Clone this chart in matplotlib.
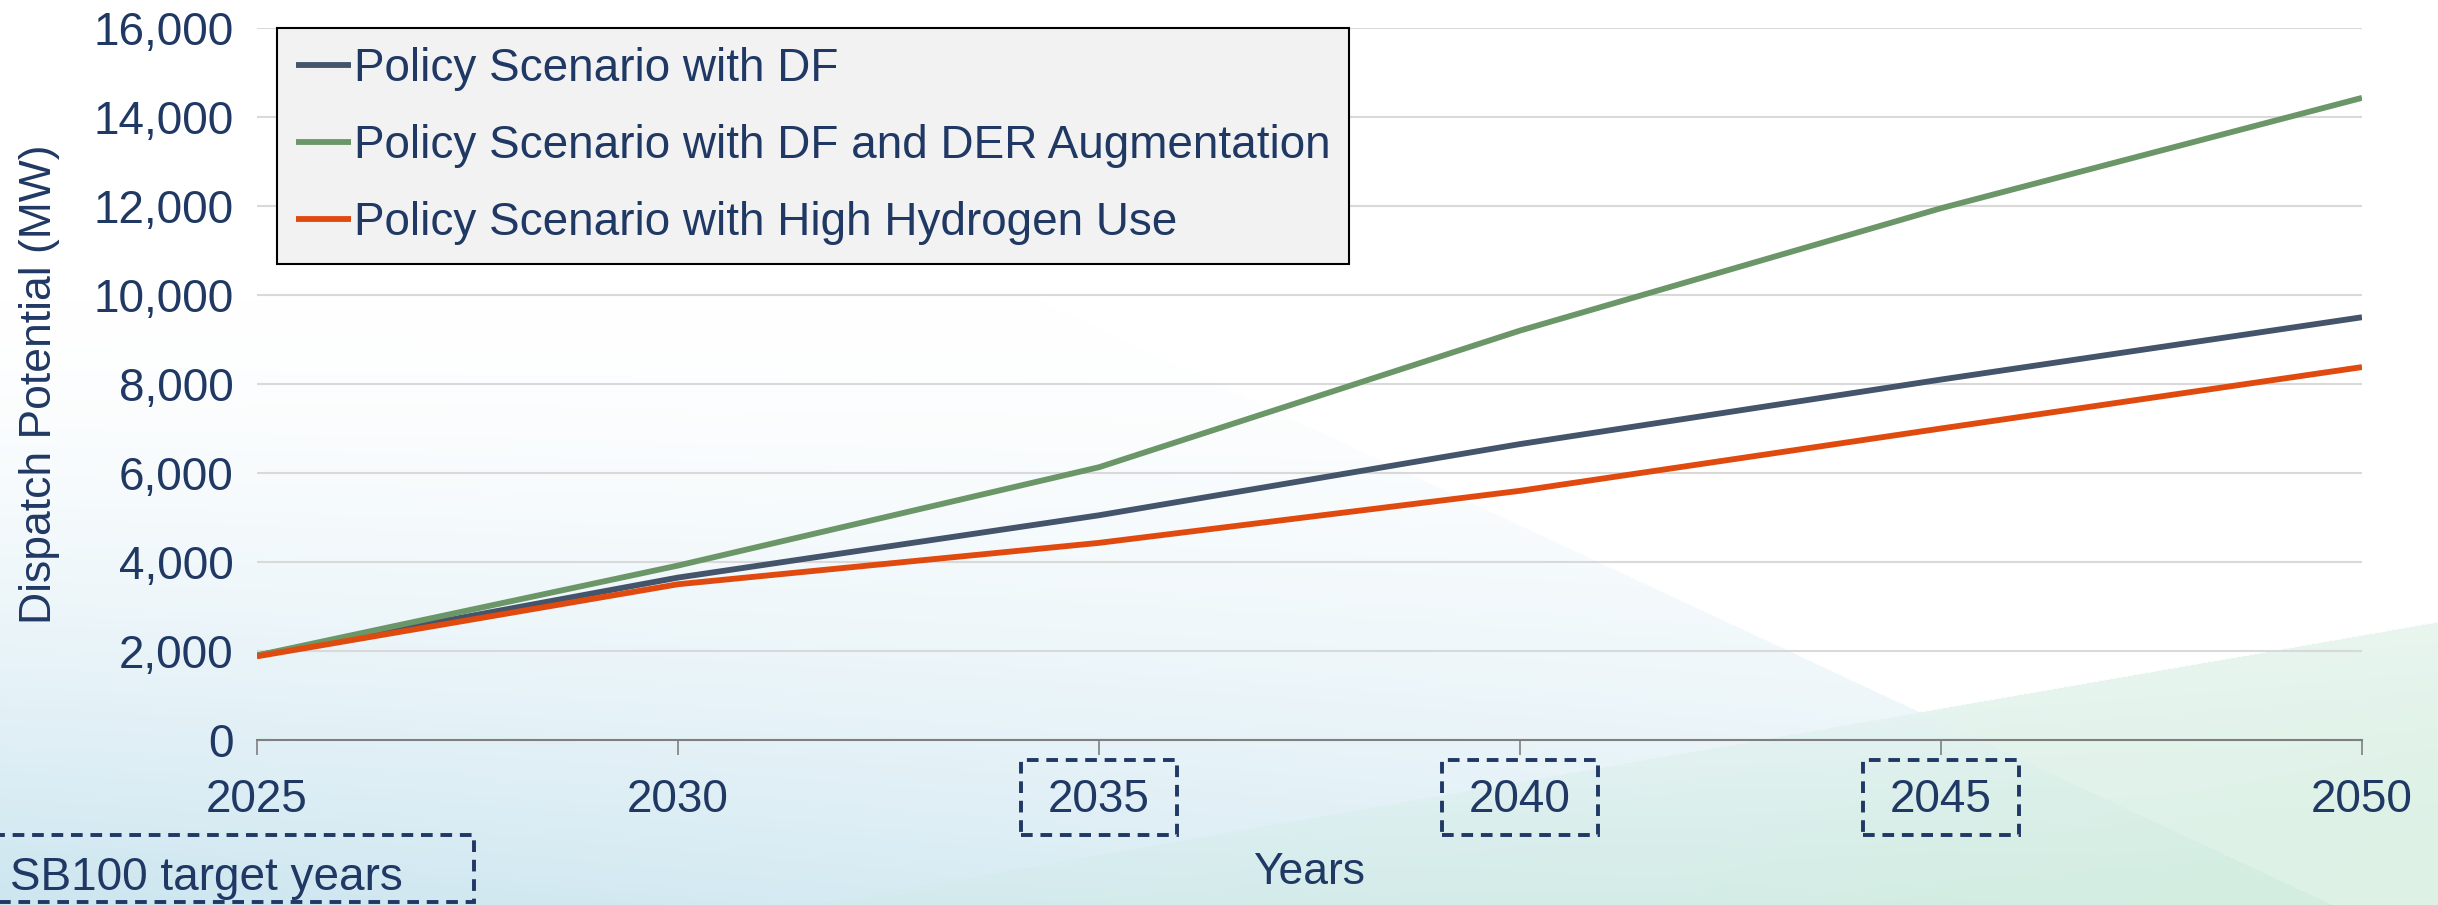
import numpy as np
import matplotlib
matplotlib.use('Agg')
import matplotlib.pyplot as plt
from matplotlib.patches import Rectangle
from matplotlib.ticker import FuncFormatter
import matplotlib.transforms as mtransforms

# data
years = [2025, 2030, 2035, 2040, 2045, 2050]
df = [1900, 3650, 5050, 6650, 8100, 9500]
df_der = [1900, 3920, 6130, 9200, 11950, 14430]
high_h2 = [1880, 3500, 4430, 5600, 7000, 8380]
target_years = [2035, 2040, 2045]

labels = ["Policy Scenario with DF",
          "Policy Scenario with DF and DER Augmentation",
          "Policy Scenario with High Hydrogen Use"]
colors = ['#44546A', '#6B9668', '#E04A0E']
navy = '#203864'

plt.rcParams['font.family'] = ['Liberation Sans', 'DejaVu Sans']
fs = 33

W, H = 2438, 905
fig = plt.figure(figsize=(W / 100, H / 100), dpi=100)

# background gradient
yy, xx = np.mgrid[0:H, 0:W].astype(float)
s = np.clip((yy - 300) / 605, 0, 1) ** 1.5 * (1 - 0.5 * xx / W)
white = np.array([1.0, 1.0, 1.0])
blue = np.array([0.80, 0.90, 0.94])
bg = white * (1 - s[..., None]) + blue * s[..., None]

yb = 905 + (622 - 905) * (xx - 809) / (2438 - 809)
below = yy > yb
t = np.clip(xx / W, 0, 1)[..., None]
green = np.array([0.80, 0.91, 0.91]) * (1 - t) + np.array([0.82, 0.93, 0.86]) * t
gs = np.clip((yy - yb) / 200, 0, 1)[..., None] * 0.5 + 0.3
bg = np.where(below[..., None], bg * (1 - gs) + green * gs, bg)

xa = 1493 + (2333 - 1493) * (yy - 513) / (905 - 513)
right = xx > xa
bg = np.where((right & ~below)[..., None], white, bg)
bg = np.where((right & below)[..., None], bg * 0.5 + np.array([0.9, 0.96, 0.92]) * 0.5, bg)

bgax = fig.add_axes([0, 0, 1, 1], zorder=-1)
bgax.imshow(bg, aspect='auto', extent=[0, 1, 0, 1])
bgax.axis('off')

ax = fig.add_axes([257 / W, 1 - 740 / H, (2362 - 257) / W, (740 - 28) / H])
ax.set_facecolor('none')

for vals, lab, c in zip([df, df_der, high_h2], labels, colors):
    ax.plot(years, vals, color=c, lw=4.2, label=lab, solid_capstyle='butt')

ax.set_xlim(2025, 2050)
ax.set_ylim(0, 16000)
ax.set_xticks(range(2025, 2051, 5))
ax.set_yticks(range(0, 16001, 2000))
ax.yaxis.set_major_formatter(FuncFormatter(lambda v, p: f'{int(v):,}'))
ax.grid(axis='y', color='#d9d9d9', lw=1.5)
ax.set_axisbelow(True)
for sp in ['top', 'right', 'left']:
    ax.spines[sp].set_visible(False)
ax.spines['bottom'].set_color('#7f7f7f')
ax.spines['bottom'].set_linewidth(1.5)
ax.tick_params(axis='y', length=0, pad=17, labelsize=fs, labelcolor=navy)
ax.tick_params(axis='x', length=11, width=1.2, color='#7f7f7f', pad=16,
               labelsize=fs, labelcolor=navy)

ax.set_xlabel('Years', fontsize=fs - 1, color=navy, labelpad=22)
ax.set_ylabel('Dispatch Potential (MW)', fontsize=fs - 1, color=navy, labelpad=24)

leg = ax.legend(loc='upper left', bbox_to_anchor=(0.0095, 1.0), borderaxespad=0,
                fontsize=fs, handlelength=1.2, handletextpad=0.05,
                labelspacing=0.72, borderpad=0.42, fancybox=False,
                facecolor='#f2f2f2', edgecolor='black', framealpha=1,
                labelcolor=navy)
leg.get_frame().set_linewidth(1.5)

# dashed boxes around SB100 target years
trans = mtransforms.blended_transform_factory(ax.transData, ax.transAxes)
for yr in target_years:
    ax.add_patch(Rectangle((yr - 0.93, -0.133), 1.86, 0.105, transform=trans,
                           fill=False, ls=(0, (3, 2)), lw=2.8, ec=navy,
                           clip_on=False))

fig.patches.append(Rectangle((-0.005, 0.003), 474 / W + 0.005, 0.0773 - 0.003,
                             transform=fig.transFigure, fill=False,
                             ls=(0, (3, 2)), lw=2.8, ec=navy))
fig.text(10 / W, 1 - 878 / H, 'SB100 target years', fontsize=fs, color=navy,
         ha='left', va='center')

fig.savefig('out.png', dpi=100)
